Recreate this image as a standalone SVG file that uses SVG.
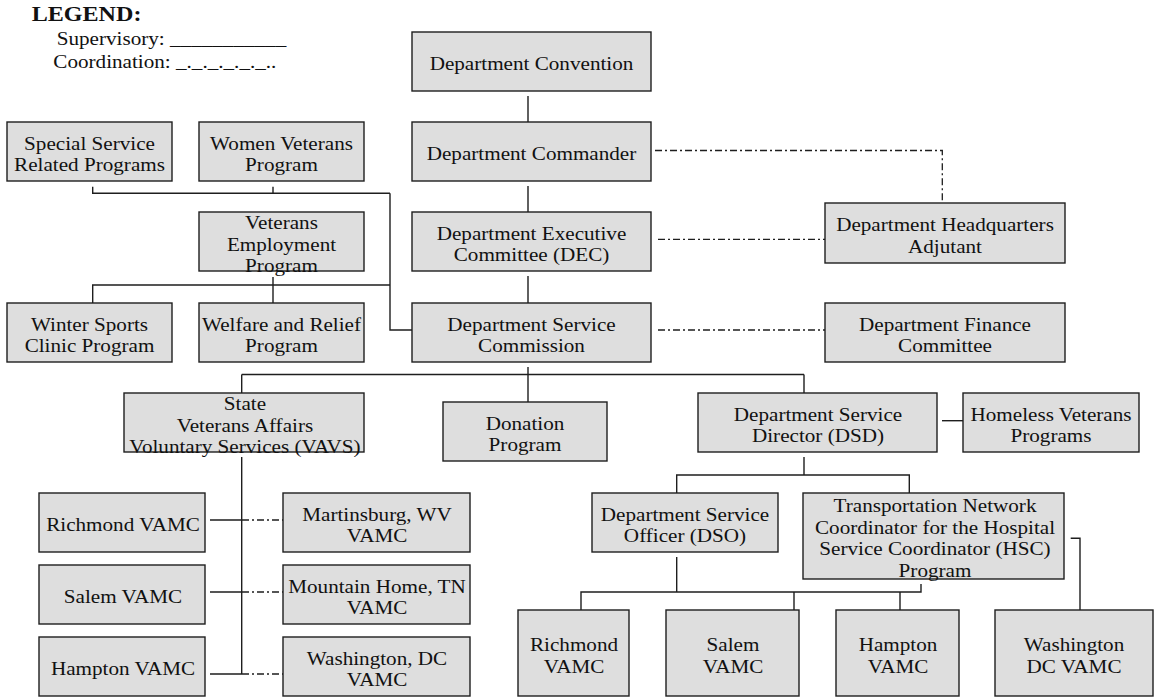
<svg xmlns="http://www.w3.org/2000/svg" width="1156" height="698" viewBox="0 0 1156 698">
<style>
  .box { fill: #dedede; stroke: #1e1e1e; stroke-width: 1.4; }
  .t { font-family: "Liberation Serif", "Times New Roman", serif; font-size: 18px; fill: #111; text-anchor: middle; }
  .lg { font-family: "Liberation Serif", "Times New Roman", serif; font-size: 18px; fill: #111; }
  .lgb { font-family: "Liberation Serif", "Times New Roman", serif; font-size: 20.5px; font-weight: bold; fill: #111; }
  .sup { fill: none; stroke: #1e1e1e; stroke-width: 1.4; }
  .coord { fill: none; stroke: #1e1e1e; stroke-width: 1.3; stroke-dasharray: 7 3 2 3; }
</style>
<rect width="1156" height="698" fill="#ffffff"/>

<g id="legend">
  <text class="lgb" transform="translate(31.7,20.7) scale(1.175,1)">LEGEND:</text>
  <text class="lg" transform="translate(56.7,45) scale(1.175,1)">Supervisory: ___________</text>
  <text class="lg" transform="translate(53.3,68) scale(1.175,1)">Coordination: _._._._._._..</text>
</g>

<g id="connectors">
  <!-- main spine -->
  <path class="sup" d="M528,96 V122 M528,186 V212 M528,276 V303 M528,367 V402"/>
  <path class="sup" d="M241.7,374.5 H804 M241.7,374.5 V393 M804,374.5 V393"/>
  <!-- top left programs -->
  <path class="sup" d="M92.7,186.7 V193.3 H390 M273,186.7 V193.3 M390,193.3 V330 H412"/>
  <path class="sup" d="M92.7,303 V285 H390 M273,277 V303"/>
  <!-- VAVS -->
  <path class="sup" d="M241.7,457 V674 M210,520 H242 M210,592 H242 M210,674 H242"/>
  <path class="coord" d="M242,520 H283 M242,592 H283 M242,674 H283"/>
  <!-- DSD -->
  <path class="sup" d="M942,420.7 H963"/>
  <path class="sup" d="M804,457 V475 M676.7,493 V475 H909.3 V493"/>
  <path class="sup" d="M676.7,557 V592 M581,610 V592 H921 V584 M794,592 V610 M900,592 V610"/>
  <path class="sup" d="M1070.7,538.3 H1080 V610"/>
  <!-- coordination -->
  <path class="coord" d="M655,150.5 H942.3 V203"/>
  <path class="coord" d="M658,239.3 H825"/>
  <path class="coord" d="M658,330 H825"/>
</g>

<g id="conv"><rect class="box" x="412" y="32" width="239" height="59"/>
  <text class="t" transform="translate(531.5,0) scale(1.175,1)"><tspan x="0" y="70.5">Department Convention</tspan></text></g>
<g id="cmdr"><rect class="box" x="412" y="122" width="239" height="59"/>
  <text class="t" transform="translate(531.5,0) scale(1.175,1)"><tspan x="0" y="160.5">Department Commander</tspan></text></g>
<g id="dec"><rect class="box" x="412" y="212" width="239" height="59"/>
  <text class="t" transform="translate(531.5,0) scale(1.175,1)"><tspan x="0" y="239.6">Department Executive</tspan><tspan x="0" dy="21.7">Committee (DEC)</tspan></text></g>
<g id="dsc"><rect class="box" x="412" y="303" width="239" height="59"/>
  <text class="t" transform="translate(531.5,0) scale(1.175,1)"><tspan x="0" y="330.6">Department Service</tspan><tspan x="0" dy="21.7">Commission</tspan></text></g>
<g id="hq"><rect class="box" x="825" y="203" width="240" height="60"/>
  <text class="t" transform="translate(945,0) scale(1.175,1)"><tspan x="0" y="231">Department Headquarters</tspan><tspan x="0" dy="21.7">Adjutant</tspan></text></g>
<g id="fin"><rect class="box" x="825" y="303" width="240" height="59"/>
  <text class="t" transform="translate(945,0) scale(1.175,1)"><tspan x="0" y="330.6">Department Finance</tspan><tspan x="0" dy="21.7">Committee</tspan></text></g>
<g id="ssrp"><rect class="box" x="7" y="122" width="165" height="59"/>
  <text class="t" transform="translate(89.5,0) scale(1.175,1)"><tspan x="0" y="149.6">Special Service</tspan><tspan x="0" dy="21.7">Related Programs</tspan></text></g>
<g id="wvp"><rect class="box" x="199" y="122" width="165" height="59"/>
  <text class="t" transform="translate(281.5,0) scale(1.175,1)"><tspan x="0" y="149.6">Women Veterans</tspan><tspan x="0" dy="21.7">Program</tspan></text></g>
<g id="vep"><rect class="box" x="199" y="212" width="165" height="59"/>
  <text class="t" transform="translate(281.5,0) scale(1.175,1)"><tspan x="0" y="229">Veterans</tspan><tspan x="0" dy="21.7">Employment</tspan><tspan x="0" dy="21.7">Program</tspan></text></g>
<g id="wscp"><rect class="box" x="7" y="303" width="165" height="59"/>
  <text class="t" transform="translate(89.5,0) scale(1.175,1)"><tspan x="0" y="330.6">Winter Sports</tspan><tspan x="0" dy="21.7">Clinic Program</tspan></text></g>
<g id="wrp"><rect class="box" x="199" y="303" width="165" height="59"/>
  <text class="t" transform="translate(281.5,0) scale(1.175,1)"><tspan x="0" y="330.6">Welfare and Relief</tspan><tspan x="0" dy="21.7">Program</tspan></text></g>
<g id="vavs"><rect class="box" x="124" y="393" width="240" height="59"/>
  <text class="t" transform="translate(245,0) scale(1.175,1)"><tspan x="0" y="410.5">State</tspan><tspan x="0" dy="21.2">Veterans Affairs</tspan><tspan x="0" dy="21.2">Voluntary Services (VAVS)</tspan></text></g>
<g id="don"><rect class="box" x="443" y="402" width="164" height="59"/>
  <text class="t" transform="translate(525,0) scale(1.175,1)"><tspan x="0" y="429.6">Donation</tspan><tspan x="0" dy="21.7">Program</tspan></text></g>
<g id="dsd"><rect class="box" x="698" y="393" width="239" height="59"/>
  <text class="t" transform="translate(818,0) scale(1.175,1)"><tspan x="0" y="420.6">Department Service</tspan><tspan x="0" dy="21.7">Director (DSD)</tspan></text></g>
<g id="hvp"><rect class="box" x="963" y="393" width="176" height="59"/>
  <text class="t" transform="translate(1051,0) scale(1.175,1)"><tspan x="0" y="420.6">Homeless Veterans</tspan><tspan x="0" dy="21.7">Programs</tspan></text></g>
<g id="rvl"><rect class="box" x="39" y="493" width="166" height="59"/>
  <text class="t" transform="translate(123,0) scale(1.175,1)"><tspan x="0" y="531">Richmond VAMC</tspan></text></g>
<g id="svl"><rect class="box" x="39" y="565" width="166" height="59"/>
  <text class="t" transform="translate(123,0) scale(1.175,1)"><tspan x="0" y="603">Salem VAMC</tspan></text></g>
<g id="hvl"><rect class="box" x="39" y="637" width="166" height="59"/>
  <text class="t" transform="translate(123,0) scale(1.175,1)"><tspan x="0" y="675">Hampton VAMC</tspan></text></g>
<g id="mwv"><rect class="box" x="283" y="493" width="187" height="59"/>
  <text class="t" transform="translate(377,0) scale(1.175,1)"><tspan x="0" y="520.6">Martinsburg, WV</tspan><tspan x="0" dy="21.7">VAMC</tspan></text></g>
<g id="mtn"><rect class="box" x="283" y="565" width="187" height="59"/>
  <text class="t" transform="translate(377,0) scale(1.175,1)"><tspan x="0" y="592.6">Mountain Home, TN</tspan><tspan x="0" dy="21.7">VAMC</tspan></text></g>
<g id="wdc"><rect class="box" x="283" y="637" width="187" height="59"/>
  <text class="t" transform="translate(377,0) scale(1.175,1)"><tspan x="0" y="664.6">Washington, DC</tspan><tspan x="0" dy="21.7">VAMC</tspan></text></g>
<g id="dso"><rect class="box" x="592" y="493" width="186" height="59"/>
  <text class="t" transform="translate(685,0) scale(1.175,1)"><tspan x="0" y="520.6">Department Service</tspan><tspan x="0" dy="21.7">Officer (DSO)</tspan></text></g>
<g id="tnc"><rect class="box" x="803" y="493" width="261" height="86"/>
  <text class="t" transform="translate(935,0) scale(1.175,1)"><tspan x="0" y="512">Transportation Network</tspan><tspan x="0" dy="21.7">Coordinator for the Hospital</tspan><tspan x="0" dy="21.7">Service Coordinator (HSC)</tspan><tspan x="0" dy="21.7">Program</tspan></text></g>
<g id="rv"><rect class="box" x="518" y="610" width="111" height="86"/>
  <text class="t" transform="translate(574,0) scale(1.175,1)"><tspan x="0" y="651">Richmond</tspan><tspan x="0" dy="21.7">VAMC</tspan></text></g>
<g id="sv"><rect class="box" x="666" y="610" width="133" height="86"/>
  <text class="t" transform="translate(733,0) scale(1.175,1)"><tspan x="0" y="651">Salem</tspan><tspan x="0" dy="21.7">VAMC</tspan></text></g>
<g id="hv"><rect class="box" x="836" y="610" width="123" height="86"/>
  <text class="t" transform="translate(898,0) scale(1.175,1)"><tspan x="0" y="651">Hampton</tspan><tspan x="0" dy="21.7">VAMC</tspan></text></g>
<g id="wv"><rect class="box" x="995" y="610" width="158" height="86"/>
  <text class="t" transform="translate(1074,0) scale(1.175,1)"><tspan x="0" y="651">Washington</tspan><tspan x="0" dy="21.7">DC VAMC</tspan></text></g>
</svg>
